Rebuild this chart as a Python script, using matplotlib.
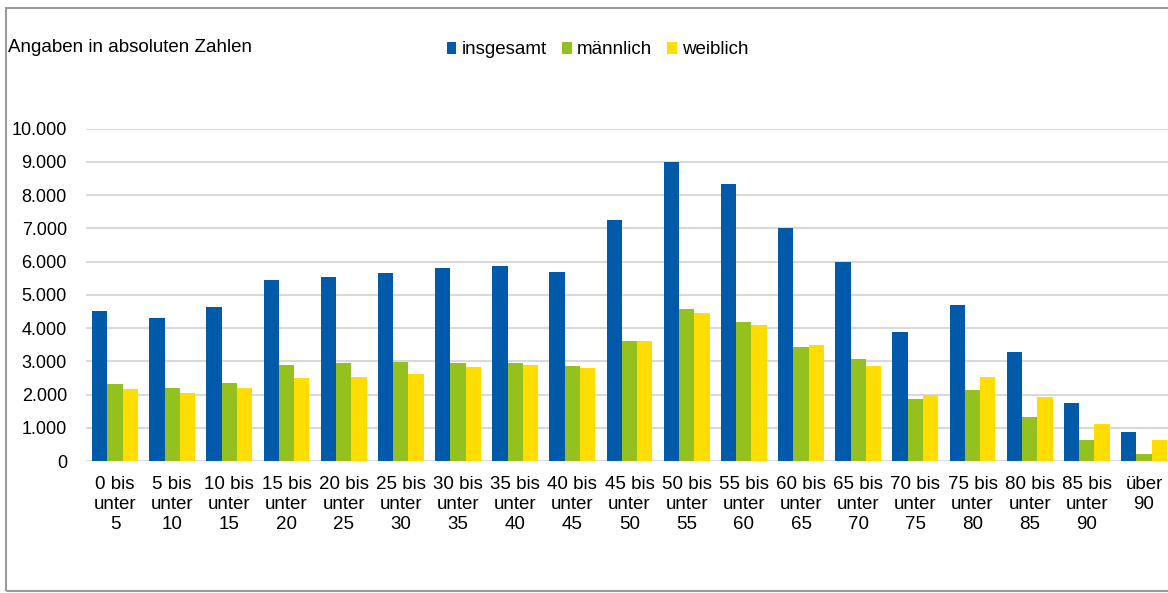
import matplotlib.pyplot as plt
import matplotlib.patches as patches
import numpy as np

plt.rcParams['font.family'] = ['Liberation Sans', 'DejaVu Sans']

# Altersgruppen
gruppen = ["0 bis\nunter\n5", "5 bis\nunter\n10", "10 bis\nunter\n15", "15 bis\nunter\n20",
           "20 bis\nunter\n25", "25 bis\nunter\n30", "30 bis\nunter\n35", "35 bis\nunter\n40",
           "40 bis\nunter\n45", "45 bis\nunter\n50", "50 bis\nunter\n55", "55 bis\nunter\n60",
           "60 bis\nunter\n65", "65 bis\nunter\n70", "70 bis\nunter\n75", "75 bis\nunter\n80",
           "80 bis\nunter\n85", "85 bis\nunter\n90", "über\n90"]
insgesamt = [4520, 4300, 4620, 5460, 5540, 5670, 5820, 5870, 5690, 7260,
             9010, 8340, 7010, 5980, 3880, 4700, 3270, 1760, 880]
maennlich = [2310, 2210, 2360, 2900, 2960, 2980, 2950, 2940, 2860, 3620,
             4560, 4180, 3430, 3070, 1870, 2140, 1320, 630, 200]
weiblich = [2160, 2060, 2210, 2500, 2540, 2630, 2820, 2900, 2800, 3600,
            4450, 4100, 3490, 2860, 2000, 2520, 1940, 1110, 640]
yticks = [0, 1000, 2000, 3000, 4000, 5000, 6000, 7000, 8000, 9000, 10000]

W, H = 1168, 593
fig = plt.figure(figsize=(W / 100, H / 100), dpi=100)
ax = fig.add_axes([86.4 / W, 132 / H, (1172.6 - 86.4) / W, 332.3 / H])

x = np.arange(len(gruppen))
b = 0.267
ax.bar(x - b, insgesamt, b, color='#0059a9', label='insgesamt', zorder=3)
ax.bar(x, maennlich, b, color='#95c11f', label='männlich', zorder=3)
ax.bar(x + b, weiblich, b, color='#ffdd00', label='weiblich', zorder=3)

ax.set_xlim(-0.5, len(gruppen) - 0.5)
ax.set_ylim(0, 10000)
ax.set_yticks(yticks)
ax.set_yticklabels(['{:,}'.format(v).replace(',', '.') for v in yticks], fontsize=13)
ax.set_xticks(x)
ax.set_xticklabels(gruppen, fontsize=13.5, linespacing=1.22)
ax.tick_params(axis='y', length=0, pad=14)
ax.tick_params(axis='x', length=0, pad=11)
ax.grid(axis='y', color='#d9d9d9', linewidth=1.5, zorder=0)
for s in ax.spines.values():
    s.set_visible(False)

fig.text(8 / W, 1 - 48 / H, "Angaben in absoluten Zahlen", fontsize=13.5, va='center')
fig.legend(loc='center', bbox_to_anchor=(598 / W, 1 - 50 / H), ncol=3, frameon=False,
           fontsize=13.5, handlelength=0.5, handleheight=0.65, handletextpad=0.3,
           columnspacing=0.8)

fig.patches.append(patches.Rectangle((6 / W, 2 / H), 1.1, 1 - 10 / H, transform=fig.transFigure,
                                     fill=False, edgecolor='#9a9a9a', linewidth=1.5))

fig.savefig('out.png', dpi=100)
